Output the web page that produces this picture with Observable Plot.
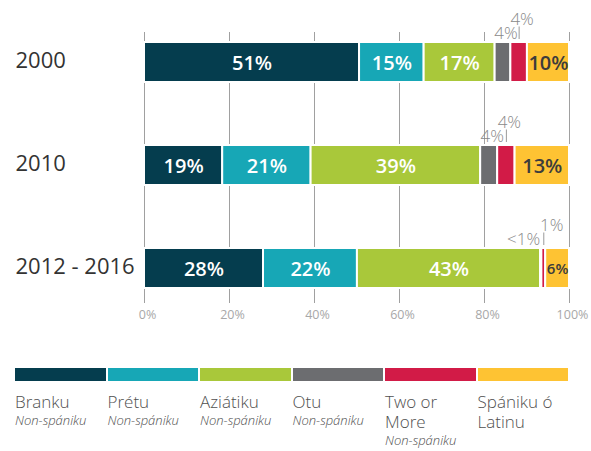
<!DOCTYPE html>
<html>
<head>
<meta charset="utf-8">
<script src="https://cdn.jsdelivr.net/npm/d3@7"></script>
<script src="https://cdn.jsdelivr.net/npm/@observablehq/plot@0.6"></script>
<style>
  body { margin: 0; background: #fff; font-family: "Open Sans", sans-serif; }
  #wrap { position: relative; width: 591px; height: 451px; overflow: hidden; }
  #legend { position: absolute; left: 15px; top: 368px; display: flex; }
  .item { width: 92.5px; }
  .sw { height: 13px; width: 90.5px; }
  .lab { font-size: 17px; line-height: 20px; color: #505050; margin-top: 10.5px; width: 90px; font-weight: 300; }
  .sub { font-size: 13px; line-height: 16px; color: #505050; font-style: italic; font-weight: 300; }
</style>
</head>
<body>
<div id="wrap">
  <div id="chart"></div>
  <div id="legend"></div>
</div>
<script>
const years = ["2000", "2010", "2012 - 2016"];
const groups = ["Branku", "Prétu", "Aziátiku", "Otu", "Two or More", "Spániku ó Latinu"];
const subLabels = ["Non-spániku", "Non-spániku", "Non-spániku", "Non-spániku", "Non-spániku", ""];
const colors = ["#053d4e", "#17a7b6", "#a9c83a", "#6c6d70", "#d21b47", "#fec333"];
const values2000 = [50.6, 15.2, 16.7, 3.7, 3.9, 9.9];
const values2010 = [18.4, 20.8, 39.9, 4.0, 4.1, 12.8];
const values2012 = [28.0, 22.1, 43.1, 0.3, 0.9, 5.6];
const labels2000 = ["51%", "15%", "17%", "4%", "4%", "10%"];
const labels2010 = ["19%", "21%", "39%", "4%", "4%", "13%"];
const labels2012 = ["28%", "22%", "43%", "<1%", "1%", "6%"];
const xTicks = [0, 20, 40, 60, 80, 100];

const seriesValues = [values2000, values2010, values2012];
const seriesLabels = [labels2000, labels2010, labels2012];
const rows = [];
years.forEach((yr, i) => {
  let acc = 0;
  const tiny = seriesValues[i][3] < 1;
  groups.forEach((g, j) => {
    const v = seriesValues[i][j];
    rows.push({year: yr, group: g, idx: j, value: v, label: seriesLabels[i][j], x1: acc, x2: acc + v, mid: acc + v / 2, tiny});
    acc += v;
  });
});
const inside = rows.filter(d => d.idx <= 2);
const insideYellow = rows.filter(d => d.idx === 5);
const otu = rows.filter(d => d.idx === 3);
const two = rows.filter(d => d.idx === 4);
const outFont = {fill: "#8a8a8a", fontSize: 17, fontWeight: 300};

const chart = Plot.plot({
  width: 591,
  height: 330,
  marginLeft: 144,
  marginRight: 22,
  marginTop: 32,
  marginBottom: 27,
  style: {fontFamily: "'Open Sans', sans-serif", background: "white", overflow: "visible"},
  x: {domain: [0, 100], axis: null},
  y: {domain: years, axis: null, paddingInner: 0.6154, paddingOuter: 0.1106, align: 0.413},
  color: {domain: groups, range: colors},
  marks: [
    Plot.ruleX(xTicks, {stroke: "#a0a0a0", strokeWidth: 1}),
    Plot.text(xTicks, {x: d => d, frameAnchor: "bottom", lineAnchor: "top", dy: 7, dx: 3, text: d => d + "%", fill: "#a8a8a8", fontSize: 12.5}),
    Plot.barX(rows, {x1: "x1", x2: "x2", y: "year", fill: "group", stroke: "white", strokeWidth: 2}),
    Plot.text(inside, {x: "mid", y: "year", text: "label", fill: "white", fontSize: 20, fontWeight: 600, dy: 1}),
    Plot.text(insideYellow, {x: "mid", y: "year", text: "label", fill: "#3c3c3c", fontSize: d => d.value < 8 ? 15 : 20, fontWeight: 600, dy: 1}),
    Plot.tickX(two, {x: "mid", y: "year", insetTop: -15.5, insetBottom: 43, stroke: "#9a9a9a", strokeWidth: 1}),
    Plot.text(otu.filter(d => !d.tiny), {x: "mid", y: "year", text: "label", ...outFont, dx: 3, dy: -23.5 - 0.32 * 17}),
    Plot.text(otu.filter(d => d.tiny), {x: "mid", y: "year", text: "label", ...outFont, textAnchor: "end", dx: -1, dy: -23.5 - 0.32 * 17}),
    Plot.text(two.filter(d => !d.tiny), {x: "mid", y: "year", text: "label", ...outFont, dx: 3, dy: -38 - 0.32 * 17}),
    Plot.text(two.filter(d => d.tiny), {x: "mid", y: "year", text: "label", ...outFont, dx: 8, dy: -38 - 0.32 * 17}),
    Plot.text(years, {y: d => d, frameAnchor: "left", textAnchor: "start", dx: -129, dy: -2, fontSize: 22, fill: "#333", fontWeight: 400})
  ]
});
document.getElementById("chart").appendChild(chart);

const legend = document.getElementById("legend");
groups.forEach((g, j) => {
  const item = document.createElement("div");
  item.className = "item";
  const sw = document.createElement("div");
  sw.className = "sw";
  sw.style.background = colors[j];
  const lab = document.createElement("div");
  lab.className = "lab";
  lab.textContent = g;
  item.appendChild(sw);
  item.appendChild(lab);
  if (subLabels[j]) {
    const sub = document.createElement("div");
    sub.className = "sub";
    sub.textContent = subLabels[j];
    item.appendChild(sub);
  }
  legend.appendChild(item);
});
</script>
</body>
</html>
